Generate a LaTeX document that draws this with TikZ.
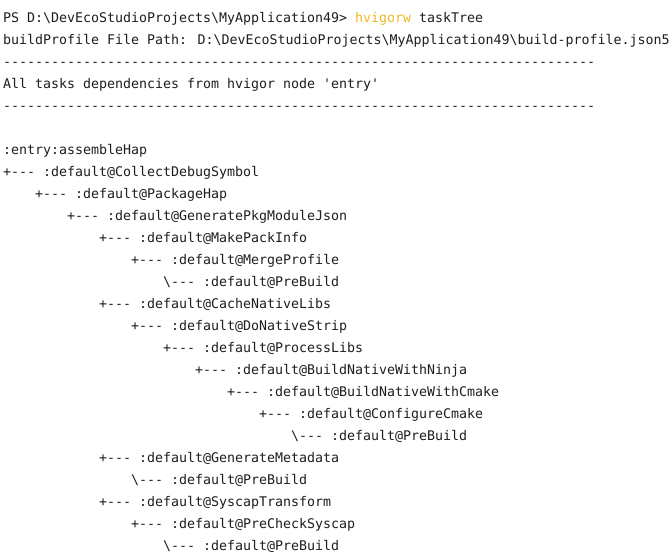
\documentclass[tikz,border=0pt]{standalone}
\usepackage{fontspec}
\newfontfamily\term{DejaVu Sans Mono}
\definecolor{termtext}{RGB}{30,30,30}
\definecolor{cmdyellow}{RGB}{236,186,38}
\newcommand{\bs}{\textbackslash}
\tikzset{
  termline/.style={anchor=base west, inner sep=0pt, outer sep=0pt, text=termtext,
    font=\term\fontsize{13.29pt}{22pt}\selectfont},
}
\begin{document}
\begin{tikzpicture}[x=1pt,y=-1pt]
\useasboundingbox[fill=white] (0,0) rectangle (669,557);
\newcommand{\ind}[1]{\hspace*{\dimexpr #1\dimexpr 8pt\relax\relax}}
\node[termline] (l0) at (3,22) {PS D:\bs DevEcoStudioProjects\bs MyApplication49> \textcolor{cmdyellow}{hvigorw} taskTree};
\node[termline] (l1) at (3,44) {buildProfile File Path: D:\bs DevEcoStudioProjects\bs MyApplication49\bs build-profile.json5};
\node[termline] (l2) at (3,66) {--------------------------------------------------------------------------};
\node[termline] (l3) at (3,88) {All tasks dependencies from hvigor node 'entry'};
\node[termline] (l4) at (3,110) {--------------------------------------------------------------------------};
\node[termline] (l6) at (3,154) {:entry:assembleHap};
\node[termline] (l7) at (3,176) {+--- :default@CollectDebugSymbol};
\node[termline] (l8) at (35,198) {+--- :default@PackageHap};
\node[termline] (l9) at (67,220) {+--- :default@GeneratePkgModuleJson};
\node[termline] (l10) at (99,242) {+--- :default@MakePackInfo};
\node[termline] (l11) at (131,264) {+--- :default@MergeProfile};
\node[termline] (l12) at (163,286) {\bs--- :default@PreBuild};
\node[termline] (l13) at (99,308) {+--- :default@CacheNativeLibs};
\node[termline] (l14) at (131,330) {+--- :default@DoNativeStrip};
\node[termline] (l15) at (163,352) {+--- :default@ProcessLibs};
\node[termline] (l16) at (195,374) {+--- :default@BuildNativeWithNinja};
\node[termline] (l17) at (227,396) {+--- :default@BuildNativeWithCmake};
\node[termline] (l18) at (259,418) {+--- :default@ConfigureCmake};
\node[termline] (l19) at (291,440) {\bs--- :default@PreBuild};
\node[termline] (l20) at (99,462) {+--- :default@GenerateMetadata};
\node[termline] (l21) at (131,484) {\bs--- :default@PreBuild};
\node[termline] (l22) at (99,506) {+--- :default@SyscapTransform};
\node[termline] (l23) at (131,528) {+--- :default@PreCheckSyscap};
\node[termline] (l24) at (163,550) {\bs--- :default@PreBuild};
\end{tikzpicture}
\end{document}
